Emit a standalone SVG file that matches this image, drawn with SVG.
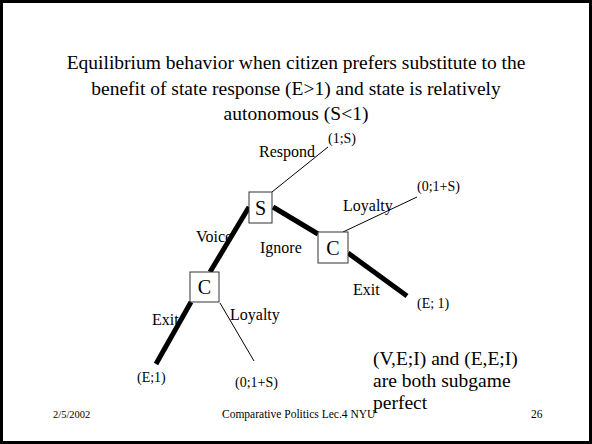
<svg xmlns="http://www.w3.org/2000/svg" width="592" height="444" viewBox="0 0 592 444">
<style>
text{font-family:"Liberation Serif","Times New Roman",serif;fill:#000}
.title{font-size:19.5px}
.lbl{font-size:16px}
.leaf{font-size:14px}
.node{font-size:20px}
.foot{font-size:11px}
.box{fill:#fff;stroke:#333;stroke-width:1}
.thick{stroke:#000;stroke-width:5;fill:none}
.thin{stroke:#000;stroke-width:1;fill:none}
</style>
<rect x="1.5" y="1.5" width="589" height="441" fill="#fff" stroke="#000" stroke-width="3"/>
<g id="title">
<text class="title" x="296" y="69" text-anchor="middle">Equilibrium behavior when citizen prefers substitute to the</text>
<text class="title" x="296" y="95" text-anchor="middle">benefit of state response (E&gt;1) and state is relatively</text>
<text class="title" x="296" y="120" text-anchor="middle">autonomous (S&lt;1)</text>
</g>
<g id="connectors">
<line class="thin" x1="272" y1="192" x2="328" y2="147"/>
<line class="thick" x1="249" y1="207" x2="210" y2="272"/>
<line class="thick" x1="273" y1="207" x2="318" y2="234"/>
<line class="thin" x1="343" y1="232" x2="417" y2="197"/>
<line class="thick" x1="348" y1="253" x2="407" y2="296"/>
<line class="thick" x1="191" y1="302" x2="156" y2="364"/>
<line class="thin" x1="220" y1="303" x2="254" y2="361"/>
<text class="lbl" x="259" y="157">Respond</text>
<text class="lbl" x="196" y="242">Voice</text>
<text class="lbl" x="260" y="253">Ignore</text>
<text class="lbl" x="343" y="211">Loyalty</text>
<text class="lbl" x="353" y="295">Exit</text>
<text class="lbl" x="152" y="325">Exit</text>
<text class="lbl" x="230" y="320">Loyalty</text>
</g>
<g id="node-S">
<rect class="box" x="249" y="192" width="23" height="31"/>
<text class="node" x="260.5" y="215" text-anchor="middle">S</text>
</g>
<g id="node-C-right">
<rect class="box" x="318" y="232" width="30" height="31"/>
<text class="node" x="333" y="255" text-anchor="middle">C</text>
</g>
<g id="node-C-left">
<rect class="box" x="190" y="272" width="29" height="30"/>
<text class="node" x="204.5" y="294" text-anchor="middle">C</text>
</g>
<g id="payoffs">
<text class="leaf" x="328" y="143">(1;S)</text>
<text class="leaf" x="417" y="191">(0;1+S)</text>
<text class="leaf" x="417" y="308">(E; 1)</text>
<text class="leaf" x="137" y="382">(E;1)</text>
<text class="leaf" x="235" y="387">(0;1+S)</text>
</g>
<g id="note">
<text class="title" x="373" y="365">(V,E;I) and (E,E;I)</text>
<text class="title" x="373" y="387">are both subgame</text>
<text class="title" x="373" y="409">perfect</text>
</g>
<g id="footer">
<text class="foot" x="53" y="418" style="font-size:10.5px">2/5/2002</text>
<text class="foot" x="222" y="418" style="font-size:11.5px">Comparative Politics Lec.4 NYU</text>
<text class="foot" x="531" y="418" style="font-size:11.5px">26</text>
</g>
</svg>
